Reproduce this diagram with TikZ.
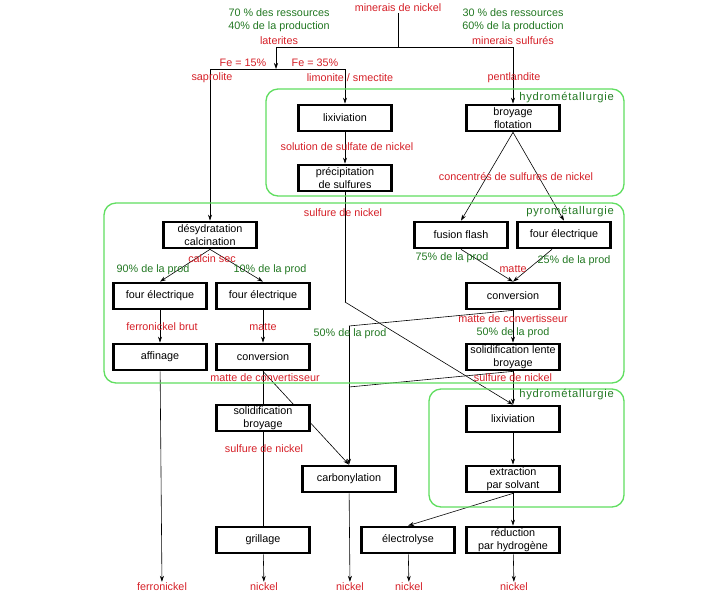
\documentclass[tikz,border=0pt]{standalone}
\usepackage{fontspec}
\setmainfont{Liberation Sans}
\usepackage{tikz}
\usetikzlibrary{
  arrows.meta,
  positioning,
  backgrounds
}
\definecolor{labelred}{RGB}{214,32,40}
\definecolor{labelgreen}{RGB}{34,120,34}
\definecolor{zonegreen}{RGB}{96,222,96}
\tikzset{
  procbox/.style={draw, line width=2.2pt, fill=white,
    minimum width=93pt, minimum height=26.5pt,
    align=center, inner sep=1pt, font=\fontsize{10.8}{13}\selectfont},
  redlbl/.style={text=labelred, inner sep=1pt,
    font=\fontsize{10.8}{12}\selectfont},
  greenlbl/.style={text=labelgreen, inner sep=1pt,
    font=\fontsize{10.8}{12}\selectfont},
  zonebox/.style={draw=zonegreen, line width=1.3pt, rounded corners=12pt},
  zonelbl/.style={text=labelgreen, anchor=east, inner sep=1pt,
    font=\fontsize{11.2}{12}\selectfont\addfontfeature{LetterSpace=7}},
  ln/.style={line width=0.6pt},
  arr/.style={-{Stealth[length=6pt,width=4pt]}, line width=0.6pt},
}

\begin{document}
\begin{tikzpicture}[x=1pt, y=-1pt]
  \useasboundingbox (0,0) rectangle (728,595);

  % zones
  \draw[zonebox] (266,89) rectangle (624,196);
  \draw[zonebox] (104,203) rectangle (624,383);
  \draw[zonebox] (429,389) rectangle (624,507);
  \node[zonelbl] (zoneHydroA) at (615,98) {hydrométallurgie};
  \node[zonelbl] (zonePyro) at (615,212) {pyrométallurgie};
  \node[zonelbl] (zoneHydroB) at (615,395) {hydrométallurgie};

  % minerais
  \node[redlbl] (minerais) at (398,8) {minerais de nickel};
  \node[greenlbl] (latRes) at (279,13) {70 \% des ressources};
  \node[greenlbl] (latProd) at (279,27) {40\% de la production};
  \node[redlbl] (laterites) at (279,41) {laterites};
  \node[greenlbl] (sulRes) at (513,13) {30 \% des ressources};
  \node[greenlbl] (sulProd) at (513,27) {60\% de la production};
  \node[redlbl] (sulfures) at (513,41) {minerais sulfurés};
  \node[redlbl] (feLow) at (243,63) {Fe = 15\%};
  \node[redlbl] (feHigh) at (315,63) {Fe = 35\%};
  \node[redlbl] (saprolite) at (212,78) {saprolite};
  \node[redlbl] (limonite) at (350,78) {limonite / smectite};
  \node[redlbl] (pentlandite) at (514,78) {pentlandite};

  % hydrometallurgie (laterites)
  \node[procbox] (lixA) at (345,118) {lixiviation};
  \node[procbox] (precip) at (345,178) {précipitation\\de sulfures};
  \node[redlbl] (solSulf) at (347,147) {solution de sulfate de nickel};
  \node[procbox] (broy) at (513,118) {broyage\\flotation};
  \node[redlbl] (concSulf) at (516,177) {concentrés de sulfures de nickel};

  % pyrometallurgie
  \node[redlbl] (sulfA) at (343,213) {sulfure de nickel};
  \node[procbox] (desh) at (210,235) {désydratation\\calcination};
  \node[procbox] (flash) at (461,235) {fusion flash};
  \node[procbox] (fourR) at (564,235) {four électrique};
  \node[redlbl] (calcin) at (212,259) {calcin sec};
  \node[greenlbl] (pctNinety) at (153,270) {90\% de la prod};
  \node[greenlbl] (pctTen) at (270,270) {10\% de la prod};
  \node[greenlbl] (pctSeventyFive) at (452,258) {75\% de la prod};
  \node[greenlbl] (pctTwentyFive) at (574,261) {25\% de la prod};
  \node[redlbl] (matteR) at (513,269) {matte};
  \node[procbox] (fourA) at (160,296) {four électrique};
  \node[procbox] (fourB) at (263,296) {four électrique};
  \node[procbox] (convR) at (513,296) {conversion};
  \node[redlbl] (ferroBrut) at (162,327) {ferronickel brut};
  \node[redlbl] (matteL) at (263,327) {matte};
  \node[redlbl] (mconvR) at (513,319) {matte de convertisseur};
  \node[greenlbl] (pctHalfA) at (350,334) {50\% de la prod};
  \node[greenlbl] (pctHalfB) at (513,333) {50\% de la prod};
  \node[procbox] (affin) at (160,357) {affinage};
  \node[procbox] (convL) at (263,357) {conversion};
  \node[procbox] (solidR) at (513,357) {solidification lente\\broyage};
  \node[redlbl] (mconvL) at (265,378) {matte de convertisseur};
  \node[redlbl] (sulfB) at (513,378) {sulfure de nickel};

  % affinage final
  \node[procbox] (solidL) at (263,418) {solidification\\broyage};
  \node[redlbl] (sulfC) at (264,449) {sulfure de nickel};
  \node[procbox] (lixB) at (513,419) {lixiviation};
  \node[procbox] (carbo) at (349,479) {carbonylation};
  \node[procbox] (extr) at (513,479) {extraction\\par solvant};
  \node[procbox] (grill) at (263,540) {grillage};
  \node[procbox] (electro) at (408,540) {électrolyse};
  \node[procbox] (reduc) at (513,540) {réduction\\par hydrogène};

  % produits
  \node[redlbl] (outFerro) at (162,587) {ferronickel};
  \node[redlbl] (outNiA) at (264,587) {nickel};
  \node[redlbl] (outNiB) at (350,587) {nickel};
  \node[redlbl] (outNiC) at (409,587) {nickel};
  \node[redlbl] (outNiD) at (514,587) {nickel};

  \coordinate (split) at (398,47);
  \coordinate (feTop) at (276,69);
  \coordinate (feL) at (210,69);
  \coordinate (feR) at (345,69);
  \coordinate (bendS) at (345,302);
  \coordinate (bendM) at (349,326);
  \coordinate (joinS) at (349,387);

  \begin{pgfonlayer}{background}
    \fill[white] (0,0) rectangle (728,595);
    % arrows
    \draw[ln] (minerais) -- (split);
    \draw[arr] (split) -| (feTop);
    \draw[arr] (split) -| (broy.north);
    \draw[ln] (feL) -- (feR);
    \draw[arr] (feL) -- (desh.north);
    \draw[arr] (feR) -- (lixA.north);
    \draw[arr] (lixA) -- (precip);
    \draw[ln] (precip) -- (bendS);
    \draw[arr] (bendS) -- (lixB.north);
    \draw[arr] (broy.south) -- (flash.north);
    \draw[arr] (broy.south) -- (fourR.north);
    \draw[arr] (flash.south) -- (convR.north);
    \draw[arr] ([xshift=-12pt]fourR.south) -- (convR.north);
    \draw[arr] (desh.south) -- (fourA.north);
    \draw[arr] (desh.south) -- (fourB.north);
    \draw[arr] (fourA) -- (affin);
    \draw[arr] (fourB) -- (convL);
    \draw[arr] (convR) -- (solidR);
    \draw[ln] (convR.south) -- (bendM);
    \draw[arr] (bendM) -- (carbo.north);
    \draw[ln] (solidR.south) -- (joinS);
    \draw[arr] (solidR) -- (lixB);
    \draw[ln] (convL) -- (solidL);
    \draw[ln] (solidL) -- (grill);
    \draw[arr] (convL.south) -- (carbo.north);
    \draw[arr] (lixB) -- (extr);
    \draw[arr] (extr.south) -- (electro.north);
    \draw[arr] (extr) -- (reduc);
    \draw[arr] (affin) -- (outFerro);
    \draw[arr] (grill) -- (outNiA);
    \draw[arr] (carbo) -- (outNiB);
    \draw[arr] (electro) -- (outNiC);
    \draw[arr] (reduc) -- (outNiD);
  \end{pgfonlayer}
\end{tikzpicture}
\end{document}
